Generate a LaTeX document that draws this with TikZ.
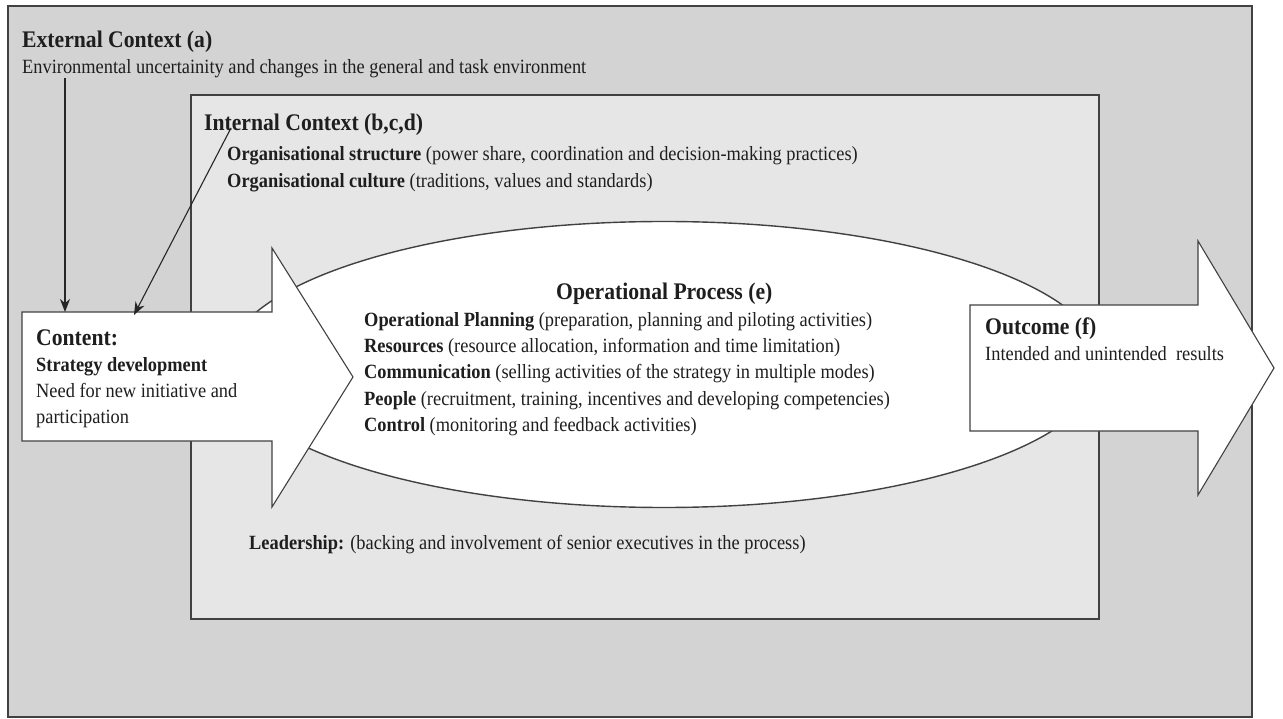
\documentclass[tikz,border=0pt]{standalone}
\usepackage{fontspec}
\setmainfont{Liberation Serif}[FakeStretch=0.91]
\usetikzlibrary{arrows.meta}
\definecolor{outerg}{RGB}{211,211,211}
\definecolor{innerg}{RGB}{230,230,230}
\definecolor{linec}{RGB}{65,65,65}
\definecolor{textc}{RGB}{30,30,30}
\begin{document}
\begin{tikzpicture}[x=1pt,y=-1pt,
  frame/.style={draw=linec, line width=1.3pt},
  shapeline/.style={draw=linec, line width=1.1pt, fill=white},
  body/.style={anchor=base west, inner sep=0pt, text=textc, font=\fontsize{20.2}{24}\selectfont},
  title/.style={anchor=base west, inner sep=0pt, text=textc, font=\fontsize{23.8}{28}\selectfont\bfseries},
  link/.style={draw=black!85, line width=1.1pt, -{Stealth[length=13pt,width=10pt]}}]
\useasboundingbox (0,0) rectangle (1283,719);
\fill[white] (0,0) rectangle (1283,719);
% contexts
\draw[frame, fill=outerg] (8,6) rectangle (1252,717);
\draw[frame, fill=innerg] (191,95) rectangle (1099,619);
% operational process ellipse
\draw[shapeline, line width=1.4pt] (664,364.5) ellipse [x radius=438, y radius=143];
% content arrow
\draw[shapeline] (22,312) -- (272,312) -- (272,248) -- (353,377) -- (272,507) -- (272,441) -- (22,441) -- cycle;
% outcome arrow
\draw[shapeline] (970,305) -- (1198,305) -- (1198,241) -- (1274,368) -- (1198,495) -- (1198,431) -- (970,431) -- cycle;
% texts
\node[title] (ext) at (22,48) {External Context (a)};
\node[body] (extd) at (22,74) {Environmental uncertainity and changes in the general and task environment};
\node[title] (int) at (204,131) {Internal Context (b,c,d)};
\node[body] (ints) at (227,161) {\textbf{Organisational structure} (power share, coordination and decision-making practices)};
\node[body] (intc) at (227,188) {\textbf{Organisational culture} (traditions, values and standards)};
\node[title] (cont) at (36,345) {Content:};
\node[body] (conts) at (36,372) {\textbf{Strategy development}};
\node[body] (contn) at (36,398) {Need for new initiative and};
\node[body] (contp) at (36,424) {participation};
\node[title] (op) at (556,300) {Operational Process (e)};
\node[body] (op1) at (364,327) {\textbf{Operational Planning} (preparation, planning and piloting activities)};
\node[body] (op2) at (364,353) {\textbf{Resources} (resource allocation, information and time limitation)};
\node[body] (op3) at (364,379) {\textbf{Communication} (selling activities of the strategy in multiple modes)};
\node[body] (op4) at (364,405) {\textbf{People} (recruitment, training, incentives and developing competencies)};
\node[body] (op5) at (364,431) {\textbf{Control} (monitoring and feedback activities)};
\node[title] (out) at (985,335) {Outcome (f)};
\node[body] (outd) at (985,361) {Intended and unintended~ results};
\node[body] (lead) at (249,549) {\textbf{Leadership:} (backing and involvement of senior executives in the process)};
% connectors
\coordinate (extsrc) at (65,78);
\coordinate (cin1) at (65,312);
\coordinate (intsrc) at (231,128);
\coordinate (cin2) at (134,315);
\draw[link] (extsrc) -- (cin1);
\draw[link] (intsrc) -- (cin2);
\end{tikzpicture}
\end{document}
